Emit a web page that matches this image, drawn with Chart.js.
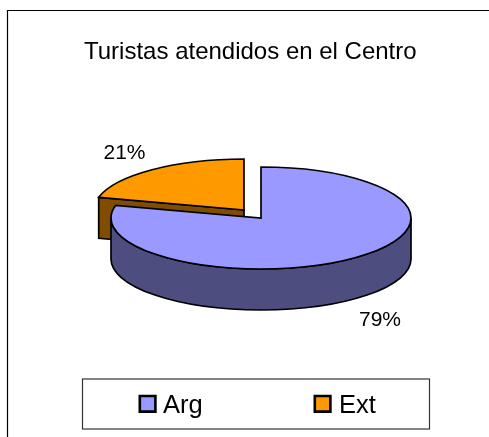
<!DOCTYPE html>
<html>
<head>
<meta charset="utf-8">
<style>html,body{margin:0;padding:0;background:#fff}canvas{display:block}</style>
<script src="https://cdn.jsdelivr.net/npm/chart.js@4/dist/chart.umd.min.js"></script>
</head>
<body>
<canvas id="c" width="489" height="437"></canvas>
<script>
const titleText = "Turistas atendidos en el Centro";
const categories = ["Arg", "Ext"];
const values = [79, 21];
const topColors = ["#9999FF", "#FF9900"];
const sideColors = ["#4D4D80", "#804D00"];

const FONT = '"Liberation Sans", Arial, sans-serif';
const squash = 51 / 150, depth = 41;
const sliceShift = [[0, 0], [-17, -8]];
const labelPos = [[380, 320.5], [124.5, 153.5]];
const legendBox = [82.5, 379, 347, 50];
const swatchX = [138.5, 313.5], legendTextX = [163, 339];

const pie3d = {
  id: 'pie3d',
  beforeDraw(chart) {
    const c = chart.ctx;
    c.save();
    c.fillStyle = '#fff';
    c.fillRect(0, 0, chart.width, chart.height);
    c.strokeStyle = '#000';
    c.lineWidth = 1.2;
    c.beginPath();
    c.moveTo(7.5, chart.height);
    c.lineTo(7.5, 10.5);
    c.lineTo(chart.width, 10.5);
    c.stroke();
    c.restore();
  },
  beforeDatasetsDraw(chart) {
    const c = chart.ctx;
    const arcs = chart.getDatasetMeta(0).data;
    c.save();
    c.lineWidth = 1.7;
    c.strokeStyle = '#000';
    c.lineJoin = 'miter';
    const geo = i => {
      const a = arcs[i];
      return {
        x: a.x + sliceShift[i][0], y: a.y + sliceShift[i][1],
        rx: a.outerRadius, ry: a.outerRadius * squash,
        s: a.startAngle, e: a.endAngle
      };
    };
    const paint = (fill) => { c.fillStyle = fill; c.fill(); c.stroke(); };
    const top = (g, fill) => {
      c.beginPath();
      c.moveTo(g.x, g.y);
      c.ellipse(g.x, g.y, g.rx, g.ry, 0, g.s, g.e);
      c.closePath();
      paint(fill);
    };
    // Ext slice: visible cut wall, then its top
    const ext = geo(1);
    const px = ext.x + ext.rx * Math.cos(ext.s), py = ext.y + ext.ry * Math.sin(ext.s);
    c.beginPath();
    c.moveTo(px, py);
    c.lineTo(ext.x, ext.y);
    c.lineTo(ext.x, ext.y + depth);
    c.lineTo(px, py + depth);
    c.closePath();
    paint(sideColors[1]);
    top(ext, topColors[1]);
    // Arg slice: curved wall, then its top
    const arg = geo(0);
    c.beginPath();
    c.ellipse(arg.x, arg.y, arg.rx, arg.ry, 0, 0, Math.PI);
    c.lineTo(arg.x - arg.rx, arg.y + depth);
    c.ellipse(arg.x, arg.y + depth, arg.rx, arg.ry, 0, Math.PI, 0, true);
    c.closePath();
    paint(sideColors[0]);
    top(arg, topColors[0]);
    c.restore();
    return false;
  },
  afterDraw(chart) {
    const c = chart.ctx;
    c.save();
    c.fillStyle = '#000';
    c.textBaseline = 'middle';
    c.textAlign = 'center';
    c.font = '21px ' + FONT;
    values.forEach((v, i) => c.fillText(v + '%', labelPos[i][0], labelPos[i][1]));
    // legend
    c.strokeStyle = '#333';
    c.lineWidth = 1.2;
    c.strokeRect(legendBox[0], legendBox[1], legendBox[2], legendBox[3]);
    c.textAlign = 'left';
    c.textBaseline = 'alphabetic';
    c.font = '25.5px ' + FONT;
    categories.forEach((name, i) => {
      c.fillStyle = topColors[i];
      c.strokeStyle = '#000';
      c.lineWidth = 2.6;
      c.beginPath();
      c.rect(swatchX[i] + 1.3, 396, 15.6, 15.6);
      c.fill();
      c.stroke();
      c.fillStyle = '#000';
      c.fillText(name, legendTextX[i], 413.3);
    });
    c.restore();
  }
};

new Chart(document.getElementById('c'), {
  type: 'pie',
  data: {
    labels: categories,
    datasets: [{ data: values, backgroundColor: topColors, borderWidth: 0 }]
  },
  options: {
    responsive: false,
    animation: false,
    rotation: 0,
    radius: 150,
    layout: { padding: { left: 84, right: 51, top: 0, bottom: 69 } },
    plugins: {
      legend: { display: false },
      tooltip: { enabled: false },
      title: {
        display: true,
        text: titleText,
        align: 'start',
        color: '#000',
        font: { family: FONT, size: 24, weight: 'normal' },
        padding: { top: 38, bottom: 1.2 }
      }
    }
  },
  plugins: [pie3d]
});
</script>
</body>
</html>
